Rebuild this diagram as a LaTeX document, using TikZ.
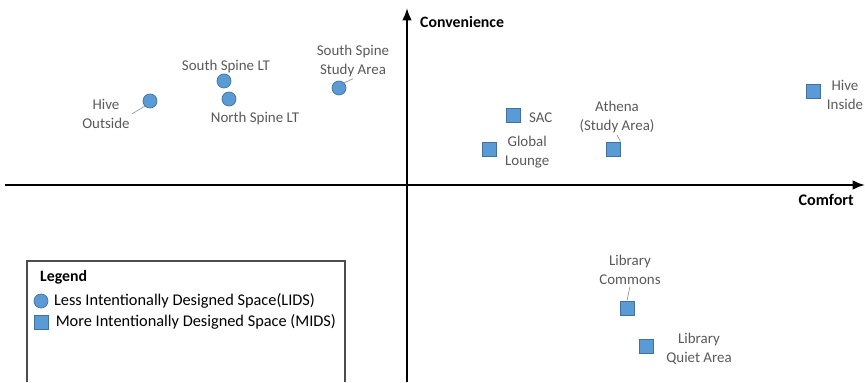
\documentclass[tikz,border=0pt]{standalone}
\usepackage{fontspec}
\setmainfont{Carlito}
\usetikzlibrary{positioning, arrows.meta}

\definecolor{ptfill}{RGB}{91,155,213}
\definecolor{ptline}{RGB}{65,113,156}
\definecolor{lbltext}{RGB}{89,89,89}

\tikzset{
	lids/.style = {circle, fill = ptfill, draw = ptline, inner sep = 0pt, minimum size = 8pt},
	mids/.style = {rectangle, fill = ptfill, draw = ptline, inner sep = 0pt, minimum size = 8pt},
	lbl/.style = {align = center, text = lbltext, inner sep = 1pt, font = \fontsize{8.5}{10.5}\selectfont},
	leader/.style = {draw = black!40, thin},
	axis/.style = {line width = 1.2pt, ->}
}

\begin{document}
\begin{tikzpicture}[>={Latex[length=7pt,width=5.5pt]}, x=0.02cm, y=-0.02cm]

	\useasboundingbox (0,0) rectangle (865,382);

	% axes
	\draw [axis] (407,382) -- (407,8) coordinate (ytop);
	\draw [axis] (5,185) -- (865,185) coordinate (xend);
	\node [anchor = west, font = \bfseries\fontsize{9}{11}\selectfont] (conv) at (414,22) {Convenience};
	\node [anchor = east, font = \bfseries\fontsize{9.2}{11}\selectfont] (comf) at (860,200) {Comfort};

	% less intentionally designed spaces
	\node [lids] (hiveout) at (150,101) {};
	\node [lbl] (hiveoutl) at (106,114) {Hive\\Outside};
	\draw [leader] (hiveout.south west) -- (hiveoutl.east);

	\node [lids] (sslt) at (224,81) {};
	\node [lbl] (ssltl) at (226,67) {South Spine LT};

	\node [lids] (nslt) at (229,99) {};
	\node [lbl] (nsltl) at (255,119) {North Spine LT};

	\node [lids] (sssa) at (339,88) {};
	\node [lbl] (sssal) at (353,61) {South Spine\\Study Area};
	\draw [leader] (sssa.north east) -- (sssal.south);

	% more intentionally designed spaces
	\node [mids] (sac) at (513,115) {};
	\node [lbl, anchor = west] (sacl) at (527,118) {SAC};

	\node [mids] (glob) at (489,149) {};
	\node [lbl, anchor = west] (globl) at (503,152) {Global\\Lounge};

	\node [mids] (athena) at (613,149) {};
	\node [lbl] (athenal) at (617,117) {Athena\\(Study Area)};
	\draw [leader] (athena.north east) -- (athenal.south);

	\node [mids] (hivein) at (813,91) {};
	\node [lbl] (hiveinl) at (845,95) {Hive\\Inside};

	\node [mids] (libcom) at (627,308) {};
	\node [lbl] (libcoml) at (630,270) {Library\\Commons};
	\draw [leader] (libcom.north) -- (libcoml.south);

	\node [mids] (libquiet) at (646,346) {};
	\node [lbl] (libquietl) at (699,349) {Library\\Quiet Area};

	% legend
	\draw [black!70, thick] (27,382) -- (27,261) -- (345,261) -- (345,382);
	\node [anchor = west, font = \bfseries\fontsize{9}{11}\selectfont] (legend) at (34,277) {Legend};
	\node [lids] (keylids) at (41,301) {};
	\node [right = 3pt of keylids, inner sep = 0pt, font = \fontsize{9.3}{11}\selectfont] (keylidsl) {Less Intentionally Designed Space(LIDS)};
	\node [mids] (keymids) at (41,322) {};
	\node [right = 4pt of keymids, inner sep = 0pt, font = \fontsize{9.3}{11}\selectfont] (keymidsl) {More Intentionally Designed Space (MIDS)};

\end{tikzpicture}
\end{document}
